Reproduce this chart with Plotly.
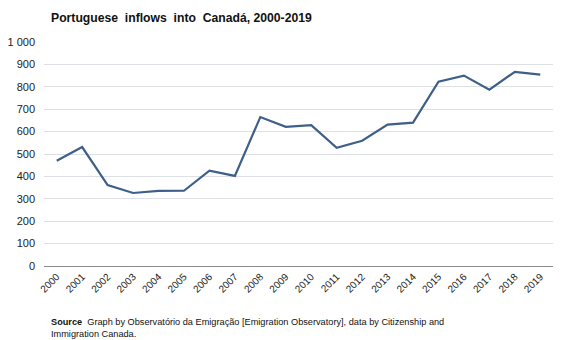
import plotly.graph_objects as go

years = [str(y) for y in range(2000, 2020)]
inflows = [470, 531, 361, 326, 335, 336, 426, 402, 665, 621,
           629, 528, 559, 631, 640, 823, 850, 787, 867, 854]
y_ticks = [0, 100, 200, 300, 400, 500, 600, 700, 800, 900, 1000]

fig = go.Figure()
fig.add_trace(go.Scatter(
    x=years, y=inflows, mode="lines",
    line=dict(color="#3e5f8a", width=2.2),
    hoverinfo="x+y", showlegend=False,
))

font_family = "Liberation Sans, Arial, sans-serif"

fig.update_layout(
    width=567, height=340,
    margin=dict(l=44, r=14, t=42, b=74),
    paper_bgcolor="white", plot_bgcolor="white",
    separators=", ",
    font=dict(family=font_family, color="#222222"),
    xaxis=dict(
        type="category", range=[-0.5, 19.5], automargin=False,
        tickangle=-45, tickfont=dict(size=10, color="#222222"),
        showgrid=False, showline=True, linecolor="#8c8c8c", linewidth=1,
        ticks="", zeroline=False, fixedrange=True,
    ),
    yaxis=dict(
        range=[0, 1000], tickvals=y_ticks, separatethousands=True,
        automargin=False,
        tickfont=dict(size=11, color="#222222"),
        showgrid=True, gridcolor="#dde1e6", gridwidth=1,
        zeroline=False, showline=False, ticks="", ticklabelstandoff=8,
        fixedrange=True,
    ),
    annotations=[
        dict(text="<b>Portuguese  inflows  into  Canadá, 2000-2019</b>",
             xref="paper", yref="paper", x=0.01, y=1.0, yshift=24,
             xanchor="left", yanchor="middle", showarrow=False,
             font=dict(size=12.2, color="#111111", family=font_family)),
        dict(text="<b>Source</b>  Graph by Observatório da Emigração [Emigration Observatory], data by Citizenship and<br>Immigration Canada.",
             xref="paper", yref="paper", x=0.01, y=0, yshift=-49,
             xanchor="left", yanchor="top", align="left", showarrow=False,
             font=dict(size=9.2, color="#111111", family=font_family)),
    ],
)

fig.write_html("out.html")
